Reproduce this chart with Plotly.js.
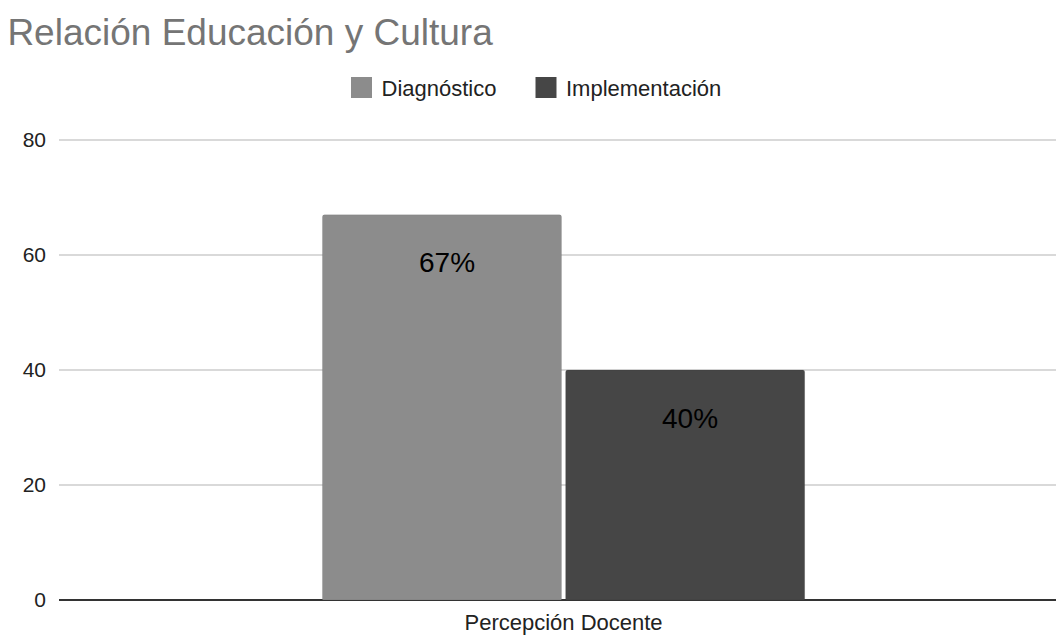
<!DOCTYPE html>
<html>
<head>
<meta charset="utf-8">
<script src="https://cdn.plot.ly/plotly-3.0.1.min.js"></script>
<style>html,body{margin:0;padding:0;background:#fff;}#chart{width:1056px;height:635px;}</style>
</head>
<body>
<div id="chart"></div>
<script>
const chartTitle = 'Relación Educación y Cultura';
const categories = ['Percepción Docente'];
const seriesNames = ['Diagnóstico', 'Implementación'];
const diagnostico = [67];
const implementacion = [40];
const seriesColors = ['#8c8c8c', '#464646'];
const yTicks = [0, 20, 40, 60, 80];

const seriesValues = [diagnostico, implementacion];
const font = 'Liberation Sans, Arial, sans-serif';
const legendIds = ['legend', 'legend2'];

const traces = [];
seriesValues.forEach((vals, i) => {
  traces.push({
    type: 'bar',
    name: seriesNames[i],
    x: categories,
    y: vals,
    marker: {color: seriesColors[i], cornerradius: 2, line: {color: 'rgba(0,0,0,0.08)', width: 1}},
    showlegend: false,
    hoverinfo: 'x+y'
  });
});
seriesValues.forEach((vals, i) => {
  traces.push({
    type: 'scatter',
    mode: 'markers',
    name: seriesNames[i],
    legend: legendIds[i],
    x: [null], y: [null],
    marker: {symbol: 'square', size: 16, color: seriesColors[i], line: {color: seriesColors[i], width: 5}},
    showlegend: true,
    hoverinfo: 'skip'
  });
});

const annotations = [];
const offsets = [-117, 126];
seriesValues.forEach((vals, i) => {
  vals.forEach((v, j) => {
    annotations.push({
      x: categories[j], y: v, xref: 'x', yref: 'y',
      text: v + '%', showarrow: false,
      xshift: offsets[i], yshift: -48, yanchor: 'middle',
      font: {family: font, size: 28, color: '#000'}
    });
  });
});

function legendBox(px) {
  return {orientation: 'h', x: (px - 59) / 997, xanchor: 'left', y: 1.1087, yanchor: 'middle', itemsizing: 'trace',
          font: {family: font, size: 22, color: '#222'}, bgcolor: 'rgba(0,0,0,0)'};
}

const layout = {
  width: 1056, height: 635,
  paper_bgcolor: '#fff', plot_bgcolor: '#fff',
  margin: {l: 59, r: 0, t: 138, b: 35, pad: 0},
  font: {family: font, size: 22, color: '#222'},
  title: {text: chartTitle, x: 0.007, xanchor: 'left', y: 0.95, yanchor: 'middle', xref: 'container', yref: 'container',
          font: {family: font, size: 37, color: '#757575'}},
  barmode: 'group',
  bargap: 0.518,
  bargroupgap: 0.017,
  xaxis: {type: 'category', range: [-0.5, 0.488], showgrid: false, zeroline: false, showline: false,
          ticks: '', ticklabelstandoff: 7, tickfont: {family: font, size: 22, color: '#222'}, fixedrange: true},
  yaxis: {range: [0, 80.348], tickvals: yTicks, ticktext: yTicks.map(String), showgrid: true, gridcolor: '#d9d9d9', gridwidth: 2,
          zeroline: true, zerolinecolor: '#333', zerolinewidth: 2, showline: false, ticks: '',
          ticklabelstandoff: 12, tickfont: {family: font, size: 21, color: '#222'}, fixedrange: true},
  legend: legendBox(341.5),
  legend2: legendBox(526),
  annotations: annotations,
  showlegend: true
};

Plotly.newPlot('chart', traces, layout, {displayModeBar: false, staticPlot: true});
</script>
</body>
</html>
